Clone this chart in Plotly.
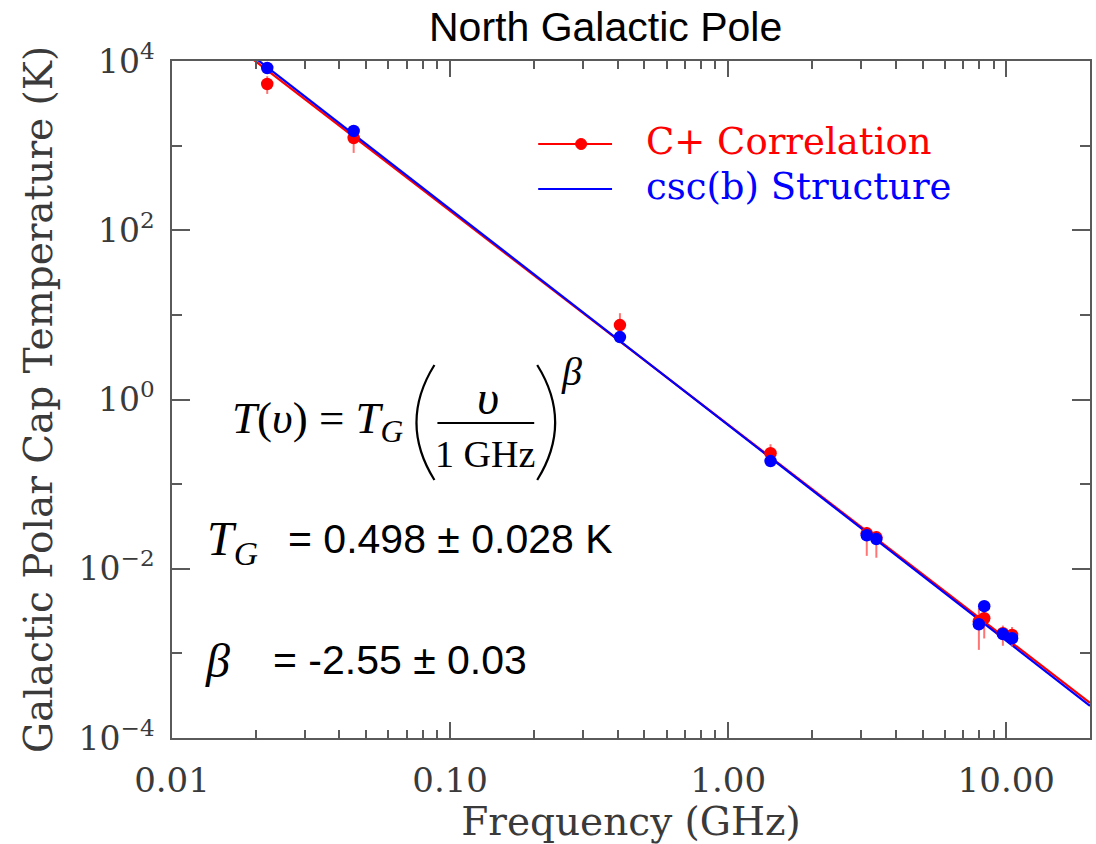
import plotly.graph_objects as go

# ---------------- data ----------------
freq_ghz = [0.022, 0.045, 0.408, 1.42, 3.15, 3.41, 7.97, 8.33, 9.72, 10.49]
cplus_T = [5350, 1230, 7.57, 0.232, 0.0262, 0.0235, 2.4e-3, 2.6e-3, 1.73e-3, 1.65e-3]
cplus_err_plus = [1270, 410, 2.9, 0.064, 0.005, 0.004, 1.0e-3, 0.8e-3, 0.4e-3, 0.4e-3]
cplus_err_minus = [1270, 410, 2.9, 0.064, 0.012, 0.010, 1.3e-3, 1.1e-3, 0.5e-3, 0.45e-3]
cscb_T = [8260, 1490, 5.47, 0.187, 0.0249, 0.0224, 2.21e-3, 3.61e-3, 1.69e-3, 1.51e-3]

fit_freq = [0.01, 20]
cplus_fit_T = [5.7e4, 2.6e-4]
cscb_fit_T = [6.3e4, 2.4e-4]

x_tickvals = [0.01, 0.1, 1, 10]
x_ticktext = ["0.01", "0.10", "1.00", "10.00"]
x_minor = [0.02, 0.03, 0.04, 0.05, 0.06, 0.07, 0.08, 0.09,
           0.2, 0.3, 0.4, 0.5, 0.6, 0.7, 0.8, 0.9,
           2, 3, 4, 5, 6, 7, 8, 9]
y_tickvals = [1e-4, 1e-2, 1, 1e2, 1e4]
y_ticktext = ["10<sup>\u22124</sup>", "10<sup>\u22122</sup>", "10<sup>0</sup>",
              "10<sup>2</sup>", "10<sup>4</sup>"]
y_minor = [1e-3, 1e-1, 10, 1e3]

legend_names = ["C+ Correlation", "csc(b) Structure"]

# ---------------- layout geometry ----------------
W, H = 1096, 844
L, R, T, B = 172, 1092, 61, 738
PW, PH = R - L, B - T


def px(x):
    return (x - L) / PW


def py(y):
    return (B - y) / PH


RED = "#ff0000"
BLUE = "#0000ff"
AXC = "#5a5a5a"
TXT = "#3a3a3a"
SERIF = "DejaVu Serif"
TIMES = "Liberation Serif"
SANS = "Liberation Sans"

fig = go.Figure()

fig.add_trace(go.Scatter(x=fit_freq, y=cplus_fit_T, mode="lines",
                         line=dict(color=RED, width=2.2), showlegend=False,
                         hoverinfo="skip"))
fig.add_trace(go.Scatter(x=fit_freq, y=cscb_fit_T, mode="lines",
                         line=dict(color=BLUE, width=2.2), showlegend=False,
                         hoverinfo="skip"))
fig.add_trace(go.Scatter(x=freq_ghz, y=cplus_T, mode="markers",
                         name=legend_names[0],
                         marker=dict(color=RED, size=12.5),
                         error_y=dict(type="data", symmetric=False,
                                      array=cplus_err_plus,
                                      arrayminus=cplus_err_minus,
                                      color="rgba(255,70,70,0.75)",
                                      thickness=2, width=0),
                         showlegend=False))
fig.add_trace(go.Scatter(x=freq_ghz, y=cscb_T, mode="markers",
                         name=legend_names[1],
                         marker=dict(color=BLUE, size=12.5),
                         showlegend=False))

shapes = []
annotations = []

# legend (drawn manually)
shapes.append(dict(type="line", xref="paper", yref="paper",
                   x0=px(539), x1=px(613), y0=py(144), y1=py(144),
                   line=dict(color=RED, width=2)))
shapes.append(dict(type="circle", xref="paper", yref="paper",
                   x0=px(576.5), x1=px(587.5), y0=py(149.5), y1=py(138.5),
                   fillcolor=RED, line=dict(color=RED, width=1)))
shapes.append(dict(type="line", xref="paper", yref="paper",
                   x0=px(539), x1=px(613), y0=py(189), y1=py(189),
                   line=dict(color=BLUE, width=2)))
annotations.append(dict(xref="paper", yref="paper", x=px(645), y=py(141),
                        text=legend_names[0], showarrow=False,
                        xanchor="left", yanchor="middle",
                        font=dict(family=SERIF, size=37, color=RED)))
annotations.append(dict(xref="paper", yref="paper", x=px(645), y=py(186),
                        text=legend_names[1], showarrow=False,
                        xanchor="left", yanchor="middle",
                        font=dict(family=SERIF, size=37, color=BLUE)))

# equation  T(v) = T_G (v / 1 GHz)^beta
annotations.append(dict(xref="paper", yref="paper", x=px(230), y=py(421),
                        text="<i>T</i>(<i>\u03c5</i>) = <i>T</i><sub><i>G</i></sub>",
                        showarrow=False, xanchor="left", yanchor="middle",
                        font=dict(family=TIMES, size=45, color="black")))
shapes.append(dict(type="path", xref="paper", yref="paper",
                   path="M {},{} Q {},{} {},{}".format(px(435), py(365), px(399), py(422.5), px(435), py(480)),
                   line=dict(color="black", width=2.2)))
shapes.append(dict(type="path", xref="paper", yref="paper",
                   path="M {},{} Q {},{} {},{}".format(px(538), py(365), px(574), py(422.5), px(538), py(480)),
                   line=dict(color="black", width=2.2)))
annotations.append(dict(xref="paper", yref="paper", x=px(489), y=py(397),
                        text="<i>\u03c5</i>", showarrow=False,
                        xanchor="center", yanchor="middle",
                        font=dict(family=TIMES, size=48, color="black")))
shapes.append(dict(type="line", xref="paper", yref="paper",
                   x0=px(438), x1=px(535), y0=py(423), y1=py(423),
                   line=dict(color="black", width=2)))
annotations.append(dict(xref="paper", yref="paper", x=px(486), y=py(454),
                        text="1 GHz", showarrow=False,
                        xanchor="center", yanchor="middle",
                        font=dict(family=TIMES, size=38, color="black")))
annotations.append(dict(xref="paper", yref="paper", x=px(572), y=py(371),
                        text="<i>\u03b2</i>", showarrow=False,
                        xanchor="center", yanchor="middle",
                        font=dict(family=TIMES, size=40, color="black")))

# T_G value
annotations.append(dict(xref="paper", yref="paper", x=px(205), y=py(542),
                        text="<i>T<sub>G</sub></i>", showarrow=False,
                        xanchor="left", yanchor="middle",
                        font=dict(family=TIMES, size=48, color="black")))
annotations.append(dict(xref="paper", yref="paper", x=px(286), y=py(539),
                        text="= 0.498 \u00b1 0.028 K", showarrow=False,
                        xanchor="left", yanchor="middle",
                        font=dict(family=SANS, size=41, color="black")))
# beta value
annotations.append(dict(xref="paper", yref="paper", x=px(203), y=py(660),
                        text="<i>\u03b2</i>", showarrow=False,
                        xanchor="left", yanchor="middle",
                        font=dict(family=TIMES, size=48, color="black")))
annotations.append(dict(xref="paper", yref="paper", x=px(271), y=py(660),
                        text="= -2.55 \u00b1 0.03", showarrow=False,
                        xanchor="left", yanchor="middle",
                        font=dict(family=SANS, size=41, color="black")))

# title
annotations.append(dict(xref="paper", yref="paper", x=px(606), y=py(27),
                        text="North Galactic Pole", showarrow=False,
                        xanchor="center", yanchor="middle",
                        font=dict(family=SANS, size=41, color="black")))

axis_common = dict(showline=True, linecolor=AXC, linewidth=1.5, mirror="ticks",
                   ticks="inside", tickcolor=AXC, tickwidth=1.5,
                   showgrid=False, zeroline=False)

fig.update_layout(
    width=W, height=H,
    margin=dict(l=L, r=W - R, t=T, b=H - B, pad=0),
    paper_bgcolor="white", plot_bgcolor="white",
    showlegend=False,
    shapes=shapes, annotations=annotations,
    xaxis=dict(type="log", range=[-2, 1.30103], tickmode="array",
               tickvals=x_tickvals, ticktext=x_ticktext, ticklen=16,
               minor=dict(tickmode="array", tickvals=x_minor, ticklen=8,
                          ticks="inside", tickcolor=AXC, tickwidth=1.5),
               tickfont=dict(family=SERIF, size=34, color=TXT),
               ticklabelstandoff=11,
               title=dict(text="Frequency (GHz)", standoff=8,
                          font=dict(family=SERIF, size=39, color=TXT)),
               **axis_common),
    yaxis=dict(type="log", range=[-4, 4], tickmode="array",
               tickvals=y_tickvals, ticktext=y_ticktext, ticklen=18,
               minor=dict(tickmode="array", tickvals=y_minor, ticklen=10,
                          ticks="inside", tickcolor=AXC, tickwidth=1.5),
               tickfont=dict(family=SERIF, size=33, color=TXT),
               ticklabelstandoff=9,
               title=dict(text="Galactic Polar Cap Temperature (K)", standoff=14,
                          font=dict(family=SERIF, size=39, color=TXT)),
               **axis_common),
)

fig.write_html("out.html")
